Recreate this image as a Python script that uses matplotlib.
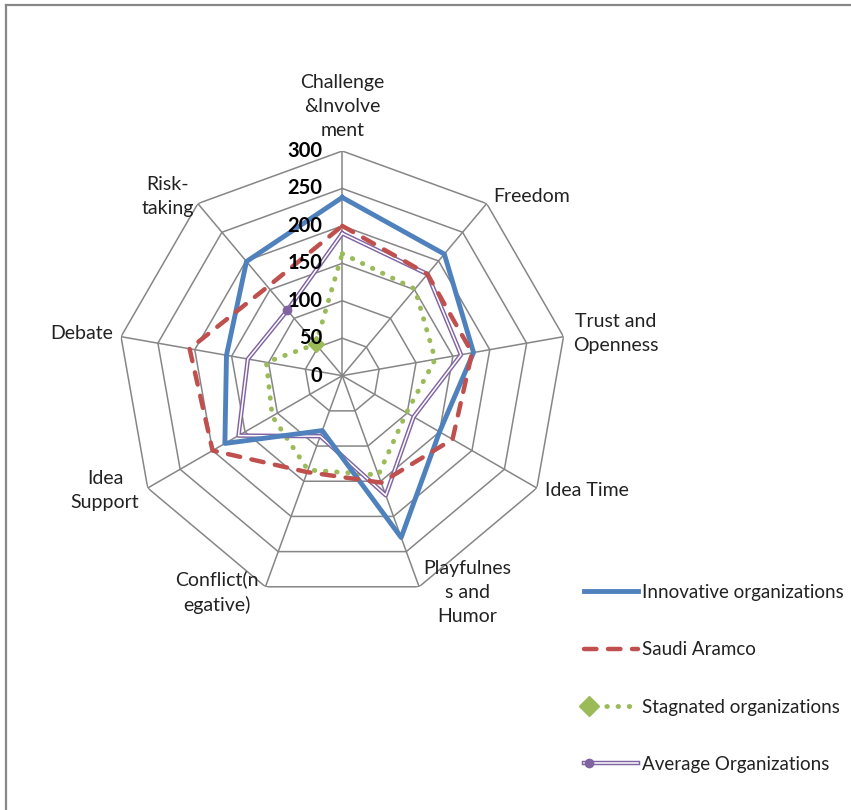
import numpy as np
import matplotlib.pyplot as plt
from matplotlib.lines import Line2D
from matplotlib.legend_handler import HandlerLine2D

plt.rcParams['font.family'] = ['Lato', 'DejaVu Sans']

categories = ["Challenge\n&Involve\nment", "Freedom", "Trust and\nOpenness", "Idea Time",
              "Playfulnes\ns and\nHumor", "Conflict(n\negative)", "Idea\nSupport", "Debate",
              "Risk-\ntaking"]
innovative = [238, 212, 178, 150, 230, 78, 181, 157, 199]
aramco = [200, 177, 176, 170, 152, 137, 200, 207, 155]
stagnated = [163, 151, 126, 99, 141, 134, 108, 103, 55]
average = [190, 177, 161, 110, 170, 86, 160, 128, 114]
rticks = [0, 50, 100, 150, 200, 250, 300]
series_names = ["Innovative organizations", "Saudi Aramco", "Stagnated organizations",
                "Average Organizations"]

BLUE = '#4F81BD'
RED = '#C0504D'
GREEN = '#9BBB59'
PURPLE = '#8064A2'
GRID = '#868686'

RED_LS = (0, (2.8, 2.6))
GREEN_LS = (0, (0.1, 2.2))

n = len(categories)
theta = np.linspace(0, 2 * np.pi, n, endpoint=False)
tclosed = np.append(theta, theta[0])


def closed(v):
    return np.append(v, v[0])


class HandlerLeftMarker(HandlerLine2D):
    # single marker at the left end of the legend line, like Excel
    def create_artists(self, legend, orig_handle, xdescent, ydescent, width, height,
                       fontsize, trans):
        y = (height - ydescent) / 2
        m = Line2D([-xdescent + 3], [y])
        self.update_prop(m, orig_handle, legend)
        m.set_transform(trans)
        return [m]


fig = plt.figure(figsize=(8.51, 8.10), dpi=100)
ax = fig.add_axes([0.1382, 0.2588, 0.528, 0.5548], projection='polar')
ax.set_theta_offset(np.pi / 2)
ax.set_theta_direction(-1)
ax.set_ylim(0, 300)
ax.grid(False)
ax.spines['polar'].set_visible(False)
ax.set_xticks([])
ax.set_yticks([])
ax.patch.set_alpha(0)

# polygon grid and spokes
for r in rticks[1:]:
    ax.plot(tclosed, [r] * (n + 1), color=GRID, lw=1.1, zorder=1)
for t in theta:
    ax.plot([t, t], [0, 300], color=GRID, lw=1.1, zorder=1)

# series
ax.plot(tclosed, closed(innovative), color=BLUE, lw=3.5, zorder=3)
ax.plot(tclosed, closed(aramco), color=RED, lw=3.2, linestyle=RED_LS,
        dash_capstyle='round', zorder=4)
ax.plot(tclosed, closed(stagnated), color=GREEN, lw=3.5, linestyle=GREEN_LS,
        dash_capstyle='round', zorder=2)
ax.plot(theta[-1:], stagnated[-1:], marker='D', color=GREEN, ms=8, lw=0, zorder=2)
ax.plot(tclosed, closed(average), color=PURPLE, lw=3.2, zorder=2)
ax.plot(tclosed, closed(average), color='white', lw=1.1, zorder=2)
ax.plot(theta[-1:], average[-1:], marker='o', color=PURPLE, ms=6, lw=0, zorder=3)

# radial tick labels
for r in rticks:
    ax.annotate(str(r), xy=(0, r), xytext=(-14.5, 0), textcoords='offset points',
                ha='right', va='center', fontsize=14.5, fontweight='bold', color='black',
                zorder=5)

# category labels
lab_fmt = [
    dict(off=(0, 9), ha='center', va='bottom'),
    dict(off=(5, 5), ha='left', va='center'),
    dict(off=(7, 2), ha='left', va='center'),
    dict(off=(6, -2), ha='left', va='center'),
    dict(off=(3, -4), ha='left', va='center'),
    dict(off=(-5, -4), ha='right', va='center'),
    dict(off=(-6, -2), ha='right', va='center'),
    dict(off=(-6, 2), ha='right', va='center'),
    dict(off=(-3, 5), ha='right', va='center'),
]
for t, lab, f in zip(theta, categories, lab_fmt):
    ax.annotate(lab, xy=(t, 300), xytext=f['off'], textcoords='offset points',
                ha=f['ha'], va=f['va'], multialignment='center', fontsize=14,
                color='#222222', linespacing=1.5, annotation_clip=False)

# legend
h_inn = Line2D([], [], color=BLUE, lw=3.5)
h_ara = Line2D([], [], color=RED, lw=3.2, linestyle=RED_LS, dash_capstyle='round')
m_sta = Line2D([], [], color=GREEN, lw=0, marker='D', ms=10)
h_sta = (Line2D([], [], color=GREEN, lw=3.5, linestyle=GREEN_LS, dash_capstyle='round'),
         m_sta)
m_avg = Line2D([], [], color=PURPLE, lw=0, marker='o', ms=6)
h_avg = (Line2D([], [], color=PURPLE, lw=3.2),
         Line2D([], [], color='white', lw=1.1),
         m_avg)
fig.legend([h_inn, h_ara, h_sta, h_avg], series_names,
           loc='upper left', bbox_to_anchor=(0.667, 0.3), frameon=False,
           fontsize=13.5, handlelength=2.85, handletextpad=0.2, labelspacing=2.15,
           labelcolor='#222222',
           handler_map={m_sta: HandlerLeftMarker(), m_avg: HandlerLeftMarker()})

# outer border (top and left)
fig.add_artist(Line2D([0.0075, 1.0], [0.9935, 0.9935], color='#888888', lw=1.6))
fig.add_artist(Line2D([0.0075, 0.0075], [0.0, 0.9935], color='#888888', lw=1.6))

fig.savefig('out.png', dpi=100)
